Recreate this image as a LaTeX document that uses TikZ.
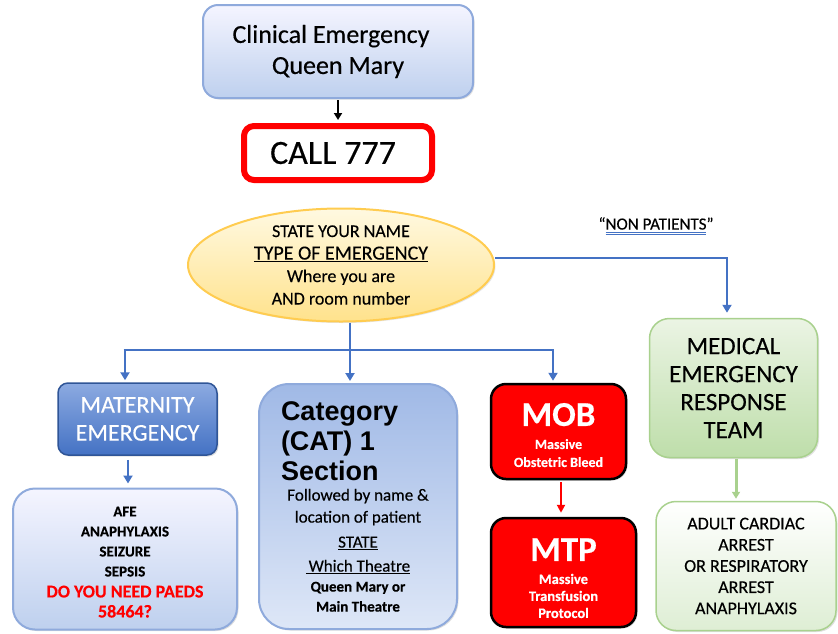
\documentclass[tikz,border=0pt]{standalone}
\usepackage{fontspec}
\setmainfont{Carlito}[FakeBold=0.3]
\newfontfamily\arialfont{Liberation Sans}
\usetikzlibrary{arrows.meta,shapes.geometric,shadows}
\definecolor{bl}{HTML}{4472C4}
\definecolor{blbord}{HTML}{8FAADC}
\definecolor{grbord}{HTML}{A9D18E}
\definecolor{redx}{HTML}{FF0000}
\newsavebox\dulbox
\newcommand\dul[1]{\sbox\dulbox{#1}\vtop{\offinterlineskip\copy\dulbox\kern2.5pt\hbox{\color{bl}\rule{\wd\dulbox}{0.7pt}}\kern1.2pt\hbox{\color{bl}\rule{\wd\dulbox}{0.7pt}}}}
\tikzset{
  box/.style={rounded corners=#1, inner sep=0pt, align=center,
    drop shadow={opacity=0.25, shadow xshift=1.5pt, shadow yshift=-1.5pt}},
  box/.default=15pt,
  bluebox/.style={box=#1, draw=blbord, line width=2pt, top color=blue!4!white, bottom color={rgb,255:red,190;green,208;blue,238}},
  bluebox/.default=15pt,
  redbox/.style={box=15pt, draw=black, line width=2.5pt, fill=redx, text=white, font=\bfseries},
  greenbox/.style={box=20pt, draw=grbord, line width=1.5pt},
  conn/.style={line width=2.6pt, draw=bl, -{Triangle[width=9pt,length=8pt]}},
  connl/.style={line width=2.6pt, draw=bl},
}
\begin{document}
\begin{tikzpicture}[x=1pt,y=-1pt]
\useasboundingbox (0,0) rectangle (838,633);

% top box
\node[bluebox=15pt, minimum width=270pt, minimum height=93pt,
  font=\fontsize{26}{31}\selectfont] (top) at (338,51.5)
  {\hspace*{-14pt}Clinical Emergency\\Queen Mary};

% CALL 777
\node[box=10pt, draw=redx, line width=6pt, fill=white, minimum width=188pt, minimum height=54pt,
  font=\fontsize{34}{36}\selectfont] (call) at (338,153) {\hspace*{-10pt}CALL 777};

% ellipse
\node[ellipse, draw={rgb,255:red,255;green,204;blue,80}, line width=2pt, inner sep=0pt,
  top color={rgb,255:red,255;green,249;blue,225}, bottom color={rgb,255:red,255;green,226;blue,140},
  minimum width=306pt, minimum height=113pt, align=center,
  drop shadow={opacity=0.2, shadow xshift=1.5pt, shadow yshift=-1.5pt},
  font=\fontsize{18}{22.5}\selectfont] (ell) at (341,265)
  {STATE YOUR NAME\\{\fontsize{20}{22}\selectfont\underline{TYPE OF EMERGENCY}}\\Where you are\\AND room number};

% non patients
\node[font=\fontsize{17}{18}\selectfont, inner sep=0pt] (np) at (656,226) {“\dul{NON PATIENTS}”};

% maternity
\node[box=10pt, draw={rgb,255:red,47;green,85;blue,151}, line width=1.5pt,
  top color={rgb,255:red,140;green,170;blue,225}, bottom color={rgb,255:red,68;green,114;blue,196},
  text=white, minimum width=159pt, minimum height=72pt,
  font=\fontsize{24}{28}\selectfont] (mat) at (137.5,419) {MATERNITY\\EMERGENCY};

% AFE box
\node[bluebox=22pt, minimum width=224pt, minimum height=141pt,
  font=\bfseries\fontsize{15}{20}\selectfont] (afe) at (125,559)
  {\rule{0pt}{16pt}AFE\\ANAPHYLAXIS\\SEIZURE\\SEPSIS\\[1pt]{\color{redx}\fontsize{18}{20}\selectfont DO YOU NEED PAEDS}\\{\color{redx}\fontsize{18}{20}\selectfont 58464?}};

% Category
\node[bluebox=30pt, minimum width=198pt, minimum height=245pt,
  top color={rgb,255:red,160;green,185;blue,230}, bottom color={rgb,255:red,222;green,231;blue,247},
  font=\fontsize{17}{20}\selectfont] (cat) at (358,506.5)
  {\makebox[160pt][l]{\hspace{3pt}\arialfont\bfseries\fontsize{27}{28}\selectfont Category}\\[4pt]
   \makebox[160pt][l]{\hspace{3pt}\arialfont\bfseries\fontsize{27}{28}\selectfont (CAT) 1}\\[4pt]
   \makebox[160pt][l]{\hspace{3pt}\arialfont\bfseries\fontsize{27}{28}\selectfont Section}\\[0pt]
   Followed by name \&\\[2pt]
   location of patient\\[5pt]
   \underline{STATE}\\[4pt]
   \underline{\,Which Theatre}\\
   {\bfseries\fontsize{15}{20}\selectfont Queen Mary or}\\
   {\bfseries\fontsize{15}{20}\selectfont Main Theatre}};

% MOB
\node[redbox, minimum width=135pt, minimum height=95pt, font=\bfseries\fontsize{14}{18}\selectfont] (mob) at (558.5,431.5)
  {\rule{0pt}{30pt}{\fontsize{35}{18}\selectfont MOB}\\[5pt]Massive\\Obstetric Bleed};

% MTP
\node[redbox, minimum width=145pt, minimum height=109pt, font=\bfseries\fontsize{14.5}{17}\selectfont] (mtp) at (563.5,572.5)
  {\rule{0pt}{34pt}{\fontsize{35}{17}\selectfont MTP}\\[6pt]Massive\\Transfusion\\Protocol};

% MERT
\node[greenbox, minimum width=168pt, minimum height=139pt,
  top color={rgb,255:red,235;green,244;blue,228}, bottom color={rgb,255:red,190;green,222;blue,170},
  font=\fontsize{25}{28}\selectfont] (mert) at (733.5,388)
  {MEDICAL\\EMERGENCY\\RESPONSE\\TEAM};

% Adult
\node[greenbox, minimum width=180pt, minimum height=129pt,
  top color=white, bottom color={rgb,255:red,222;green,238;blue,212},
  font=\fontsize{18}{21.2}\selectfont] (adult) at (746,566)
  {ADULT CARDIAC\\ARREST\\OR RESPIRATORY\\ARREST\\ANAPHYLAXIS};

% connectors
\draw[line width=2pt, -{Triangle[width=8pt,length=7pt]}, shorten <=1pt, shorten >=3pt] (top.south) -- (call.north);

\coordinate (bm) at (350,350);
\coordinate (bl) at (125,350);
\coordinate (br) at (553,350);
\draw[connl] (ell.south -| bm) -- (bm);
\draw[connl] ([xshift=-1.3pt]bl) -- ([xshift=1.3pt]br);
\draw[conn, shorten >=2pt] (bl) -- (mat.north -| bl);
\draw[conn, shorten >=2pt] (bm) -- (cat.north -| bm);
\draw[conn, shorten >=2pt] (br) -- (mob.north -| br);

\coordinate (er) at (727,258);
\draw[conn, shorten >=5pt] (ell.east |- er) -- (er) -- (mert.north -| er);

\coordinate (ma) at (128,0);
\draw[conn, shorten <=4pt, shorten >=4pt] (mat.south -| ma) -- (afe.north -| ma);

\coordinate (mb) at (561,0);
\draw[line width=2pt, draw=redx, -{Triangle[width=8pt,length=8pt]}, shorten <=2pt, shorten >=4pt] (mob.south -| mb) -- (mtp.north -| mb);

\coordinate (mc) at (736,0);
\draw[line width=3pt, draw=grbord, -{Triangle[width=8pt,length=7pt]}, shorten <=1pt, shorten >=2pt] (mert.south -| mc) -- (adult.north -| mc);
\end{tikzpicture}
\end{document}
